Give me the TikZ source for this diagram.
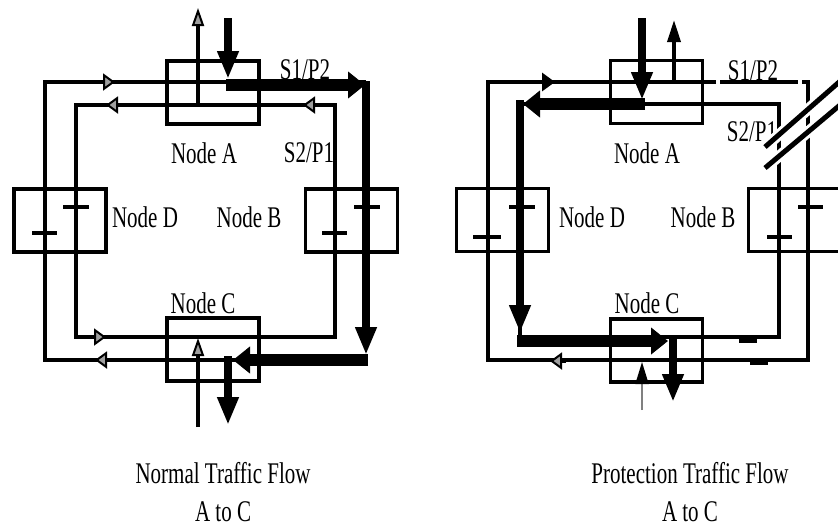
\documentclass[tikz,border=0pt]{standalone}
\usepackage{fontspec}
\setmainfont{Liberation Serif}
\usepackage{graphicx}
\usepackage{tikz}
\usetikzlibrary{arrows.meta}

\newcommand{\condtext}[1]{\scalebox{0.7}[1]{#1}}

\begin{document}
\begin{tikzpicture}[
  x=0.5pt, y=-0.5pt,
  unit/.style={draw, line width=1.6pt, minimum width=46pt, minimum height=31.5pt, inner sep=0pt},
  fibre/.style={line width=1.7pt},
  lbl/.style={font=\fontsize{15}{19}\selectfont, inner sep=0pt},
  markh/.style={fibre, -{Triangle[length=6pt, width=8.5pt, fill=gray!75, line width=1pt]}},
  markv/.style={fibre, -{Triangle[length=9pt, width=6pt, fill=gray!75, line width=1pt]}},
  solidh/.style={fibre, -{Triangle[length=6.5pt, width=9pt]}},
  solidv/.style={fibre, -{Triangle[length=11pt, width=6.5pt]}},
  flowh/.style={line width=6pt, -{Triangle[length=8.5pt, width=13pt]}},
  flowv/.style={line width=4pt, -{Triangle[length=14pt, width=10pt]}},
]
\useasboundingbox (0,0) rectangle (838,525);

% Normal traffic flow: rings
\draw[fibre] (366,82) -- (45,82) -- (45,360) -- (366,360);
\draw[fibre] (76,105) rectangle (335,337);
\draw[markh] (95,82) -- (115,82);
\draw[markh] (122,105) -- (106,105);
\draw[markh] (320,105) -- (303,105);
\draw[markh] (112,360) -- (95,360);
\draw[markh] (90,337) -- (106,337);
\draw[markv] (198,105) -- (198,8);
\draw[markv] (198,427) -- (198,338);

% Normal traffic flow: nodes
\node[unit] (na) at (213,92.5) {};
\node[unit] (nb) at (351.5,220.5) {};
\node[unit] (nc) at (213,349.5) {};
\node[unit] (nd) at (60,220.5) {};
\draw[fibre] (63,207) -- (89,207) (32,233) -- (57,233);
\draw[fibre] (354,207) -- (380,207) (322,233) -- (347,233);

\node[lbl] (nla) at (204,153) {\condtext{Node A}};
\node[lbl] (nlb) at (249,217) {\condtext{Node B}};
\node[lbl] (nlc) at (203,303) {\condtext{Node C}};
\node[lbl] (nld) at (145,217) {\condtext{Node D}};
\node[lbl] (ns1) at (305,70) {\condtext{S1/P2}};
\node[lbl] (ns2) at (309,153) {\condtext{S2/P1}};

% Normal traffic flow: working path
\draw[flowv] (228,18) -- (228,79);
\draw[flowh] (226,85) -- (365,85);
\draw[flowv] (366,81) -- (366,355);
\draw[flowh] (368,360) -- (233,360);
\draw[flowv] (228,356) -- (228,425);

\node[lbl, align=center] (ncap) at (223,492) {\condtext{Normal Traffic Flow}\\\condtext{A to C}};

% Protection traffic flow: rings
\draw[fibre] (716,82) -- (488,82) -- (488,360) -- (808,360) -- (808,82) -- (802,82);
\draw[fibre] (720,82) -- (798,82);
\draw[fibre] (520,104) rectangle (779,337);
\draw[solidh] (540,82) -- (555,82);
\draw[markh] (566,361) -- (550,361);
\draw[solidv] (674,82) -- (674,20);
\draw[line width=0.9pt, gray, -{Triangle[length=11pt, width=6.5pt, black]}] (642,410) -- (642,362);
\draw[line width=3pt] (739,340) -- (757,340);
\draw[line width=3pt] (750,362) -- (768,362);

% Protection traffic flow: nodes
\node[unit] (pa) at (656.5,92) {};
\node[unit] (pb) at (794.5,220) {};
\node[unit] (pc) at (656.5,350.5) {};
\node[unit] (pd) at (502.5,220) {};
\draw[fibre] (509,207) -- (535,207) (473,237) -- (501,237);
\draw[fibre] (798,207) -- (823,207) (767,237) -- (792,237);

\node[lbl] (pla) at (647,153) {\condtext{Node A}};
\node[lbl] (plb) at (703,217) {\condtext{Node B}};
\node[lbl] (plc) at (647,303) {\condtext{Node C}};
\node[lbl] (pld) at (592,217) {\condtext{Node D}};
\node[lbl] (ps1) at (753,71) {\condtext{S1/P2}};
\node[lbl] (ps2) at (752,132) {\condtext{S2/P1}};

% fibre cut
\draw[white, line width=5.5pt] (765,147) -- (846,76) (765,168) -- (846,100);
\draw[line width=2.5pt] (765,147) -- (846,76) (765,168) -- (846,100);

% Protection traffic flow: protection path
\draw[flowv] (642,18) -- (642,100);
\draw[flowh] (645,104) -- (523,104);
\draw[flowv] (520,100) -- (520,333);
\draw[flowh] (517,341) -- (668,341);
\draw[flowv] (673,336) -- (673,402);

\node[lbl, align=center] (pcap) at (690,492) {\condtext{Protection Traffic Flow}\\\condtext{A to C}};

\end{tikzpicture}
\end{document}
